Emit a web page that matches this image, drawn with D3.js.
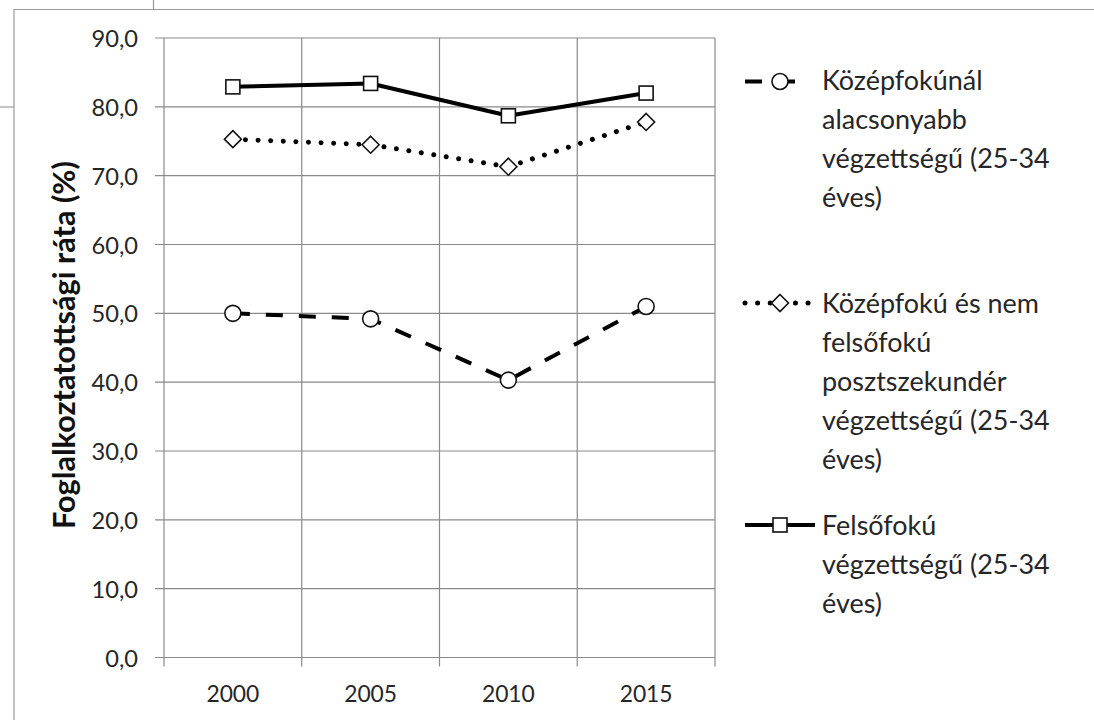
<!DOCTYPE html>
<html><head><meta charset="utf-8">
<script src="https://cdn.jsdelivr.net/npm/d3@7"></script>
<style>body{margin:0;background:#fff}svg{display:block}</style>
</head><body>
<script>
// ---- data ----
const years = ["2000", "2005", "2010", "2015"];
const lowerSecondary = [50.0, 49.2, 40.3, 51.0];
const upperSecondary = [75.3, 74.5, 71.3, 77.8];
const tertiary = [82.9, 83.4, 78.7, 82.0];
const yTicks = [0, 10, 20, 30, 40, 50, 60, 70, 80, 90];
const yTitle = "Foglalkoztatottsági ráta (%)";
const legendLower = ["Középfokúnál", "alacsonyabb", "végzettségű (25-34", "éves)"];
const legendUpper = ["Középfokú és nem", "felsőfokú", "posztszekundér", "végzettségű (25-34", "éves)"];
const legendTertiary = ["Felsőfokú", "végzettségű (25-34", "éves)"];

const W = 1094, H = 720;
const FONT = "Lato, 'Open Sans', sans-serif";
const TXT = "#262626";
const GRID = "#8a8a8a";

const svg = d3.select("body").append("svg").attr("width", W).attr("height", H);
svg.append("rect").attr("width", W).attr("height", H).attr("fill", "#fff");

function fit(text, target, weight) {
  const t = svg.append("text").attr("font-family", FONT).attr("font-weight", weight || 400)
    .attr("font-size", 100).text(text);
  const w = t.node().getComputedTextLength();
  t.remove();
  return 100 * target / w;
}

// page frame lines (cropped document borders)
const frame = svg.append("g").attr("stroke", "#9a9a9a").attr("stroke-width", 1.2).attr("fill", "none");
frame.append("path").attr("d", "M14,720V9.5H1094");
frame.append("path").attr("d", "M153.5,0V9.5");
frame.append("path").attr("d", "M0,107H14");

// scales
const x = d3.scaleBand().domain(years).range([164, 715]);
const y = d3.scaleLinear().domain([0, 90]).range([657.5, 38]);
const cx = d => x(d) + x.bandwidth() / 2;

// gridlines
const grid = svg.append("g").attr("stroke", GRID).attr("stroke-width", 1.2);
grid.selectAll("line.h").data(yTicks).join("line")
  .attr("x1", 155).attr("x2", 715).attr("y1", d => y(d)).attr("y2", d => y(d));
const bounds = d3.range(years.length + 1).map(i => x.range()[0] + i * x.step());
grid.selectAll("line.v").data(bounds).join("line")
  .attr("x1", d => d).attr("x2", d => d).attr("y1", y(90)).attr("y2", y(0) + 9);

// y axis labels
const tickSize = fit("90,0", 46.5);
const yAxis = d3.axisLeft(y).tickValues(yTicks).tickSize(0).tickPadding(0)
  .tickFormat(d => d.toFixed(1).replace(".", ","));
const gy = svg.append("g").attr("transform", "translate(138,0)").call(yAxis);
gy.select(".domain").remove();
gy.selectAll("text").attr("font-family", FONT).attr("font-size", tickSize).attr("fill", TXT)
  .attr("dy", "0.36em");

// x axis labels
const xSize = fit("2000", 53);
const xAxis = d3.axisBottom(x).tickSize(0).tickPadding(0);
const gx = svg.append("g").call(xAxis);
gx.select(".domain").remove();
gx.selectAll("text").attr("font-family", FONT).attr("font-size", xSize).attr("fill", TXT)
  .attr("y", 701.5).attr("dy", 0);

// y title
const titleSize = fit(yTitle, 368, 700);
svg.append("text").attr("transform", "translate(75,345) rotate(-90)")
  .attr("text-anchor", "middle").attr("font-family", FONT).attr("font-weight", 700)
  .attr("font-size", titleSize).attr("fill", "#111").text(yTitle);

// series
const series = [
  { vals: lowerSecondary, dash: "17,16", width: 4, cap: "butt", marker: "circle" },
  { vals: upperSecondary, dash: "0.01,12.6", width: 5, cap: "round", marker: "diamond" },
  { vals: tertiary, dash: null, width: 4, cap: "butt", marker: "square" }
];
const line = d3.line().x((d, i) => cx(years[i])).y(d => y(d));

function drawMarker(g, type, px, py) {
  const common = s => s.attr("fill", "#fff").attr("stroke", "#111").attr("stroke-width", 1.6);
  if (type === "circle") common(g.append("circle").attr("cx", px).attr("cy", py).attr("r", 8));
  else if (type === "square") common(g.append("rect").attr("x", px - 7).attr("y", py - 7).attr("width", 14).attr("height", 14));
  else common(g.append("path").attr("d", `M${px},${py - 8.5}L${px + 8.5},${py}L${px},${py + 8.5}L${px - 8.5},${py}Z`));
}

series.forEach(s => {
  const g = svg.append("g");
  g.append("path").attr("d", line(s.vals)).attr("fill", "none").attr("stroke", "#000")
    .attr("stroke-width", s.width).attr("stroke-linecap", s.cap).attr("stroke-linejoin", "round")
    .attr("stroke-dasharray", s.dash);
  s.vals.forEach((v, i) => drawMarker(g, s.marker, cx(years[i]), y(v)));
});

// legend
const legSize = (fit("Középfokúnál", 171) + fit("végzettségű (25-34", 213)) / 2;
const legends = [
  { lines: legendLower, base: 90, sy: 81.5, x1: 745, x2: 800, s: series[0] },
  { lines: legendUpper, base: 313, sy: 303, x1: 745, x2: 819, s: series[1] },
  { lines: legendTertiary, base: 535, sy: 525, x1: 745, x2: 815, s: series[2] }
];
legends.forEach(l => {
  const g = svg.append("g");
  g.append("line").attr("x1", l.x1).attr("x2", l.x2).attr("y1", l.sy).attr("y2", l.sy)
    .attr("stroke", "#000").attr("stroke-width", l.s.width).attr("stroke-linecap", l.s.cap)
    .attr("stroke-dasharray", l.s.dash);
  drawMarker(g, l.s.marker, 780, l.sy);
  const t = g.append("text").attr("font-family", FONT).attr("font-size", legSize).attr("fill", TXT);
  l.lines.forEach((ln, i) => t.append("tspan").attr("x", 822).attr("y", l.base + i * 39).text(ln));
});
</script>
</body></html>
